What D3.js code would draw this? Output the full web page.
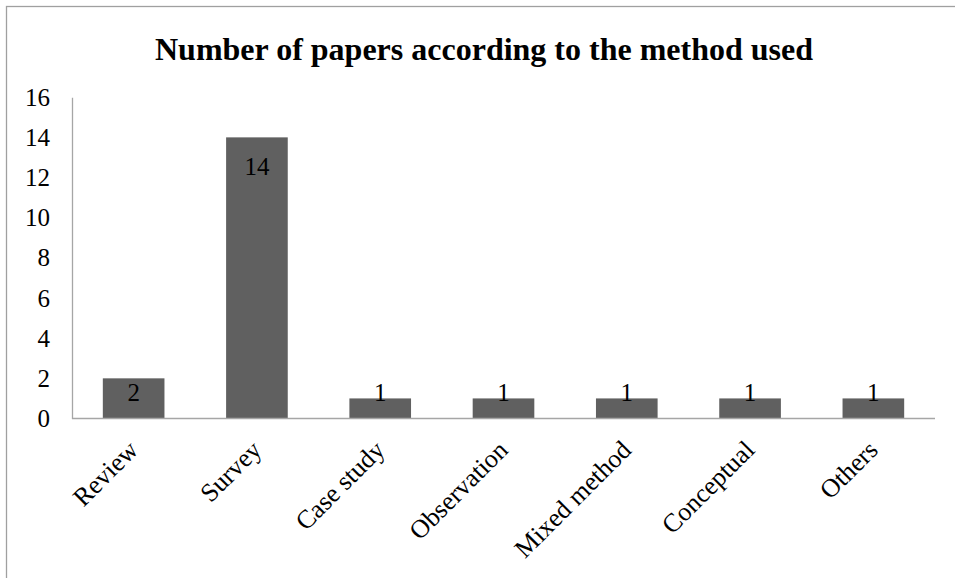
<!DOCTYPE html>
<html>
<head>
<meta charset="utf-8">
<script src="https://cdn.jsdelivr.net/npm/d3@7"></script>
<style>
  html, body { margin: 0; padding: 0; background: #fff; }
  svg { display: block; font-family: "Liberation Serif", "Times New Roman", serif; }
</style>
</head>
<body>
<svg id="chart" width="955" height="578"></svg>
<script>
const title = "Number of papers according to the method used";
const categories = ["Review", "Survey", "Case study", "Observation", "Mixed method", "Conceptual", "Others"];
const values = [2, 14, 1, 1, 1, 1, 1];
const yTicks = [0, 2, 4, 6, 8, 10, 12, 14, 16];

const svg = d3.select("#chart");
const W = 955, H = 578;
const m = { left: 72, top: 97.2 };
const plotRight = 935;
const FONT = "'Liberation Serif', 'Times New Roman', serif";

// outer border (chart area frame)
svg.append("rect")
  .attr("x", 6.5).attr("y", 6.5)
  .attr("width", 1000).attr("height", 1000)
  .attr("fill", "none").attr("stroke", "#a0a0a0").attr("stroke-width", 1.3);

const x = d3.scaleBand().domain(categories).range([m.left, plotRight]).paddingInner(0.5).paddingOuter(0.25);
const y = d3.scaleLinear().domain([0, 16]).range([418.5, 97.2]);

// title
svg.append("text")
  .attr("x", 484).attr("y", 60)
  .attr("text-anchor", "middle")
  .attr("font-weight", "bold")
  .attr("font-size", 32)
  .attr("font-family", FONT)
  .attr("fill", "#000")
  .text(title);

// bars
svg.selectAll("rect.bar").data(values).enter().append("rect")
  .attr("class", "bar")
  .attr("x", (d, i) => x(categories[i]))
  .attr("width", x.bandwidth())
  .attr("y", d => y(d))
  .attr("height", d => y(0) - y(d))
  .attr("fill", "#606060");

// y axis
const yAxis = d3.axisLeft(y).tickValues(yTicks).tickSize(0).tickPadding(22).tickFormat(d3.format("d"));
const gy = svg.append("g").attr("transform", `translate(${m.left},0)`).call(yAxis);
gy.attr("font-family", null).attr("font-size", null);
gy.select(".domain").attr("stroke", "#a6a6a6").attr("stroke-width", 1.3);
gy.selectAll("text").attr("font-size", 25).attr("fill", "#000")
  .attr("font-family", FONT);

// x axis
const xAxis = d3.axisBottom(x).tickSize(0).tickPadding(0);
const gx = svg.append("g").attr("transform", `translate(0,${y(0)})`).call(xAxis);
gx.attr("font-family", null).attr("font-size", null);
gx.select(".domain").attr("stroke", "#a6a6a6").attr("stroke-width", 1.3)
  .attr("d", `M${m.left},0H${plotRight}`);
gx.selectAll(".tick text")
  .attr("font-size", 26).attr("fill", "#000")
  .attr("font-family", FONT)
  .attr("text-anchor", "end")
  .attr("y", 0)
  .attr("dy", "0")
  .attr("transform", "translate(6,33) rotate(-45)");

// data labels
svg.selectAll("text.lbl").data(values).enter().append("text")
  .attr("class", "lbl")
  .attr("x", (d, i) => x(categories[i]) + x.bandwidth() / 2)
  .attr("y", d => Math.min(y(d) + 38, 401))
  .attr("text-anchor", "middle")
  .attr("font-size", 25)
  .attr("font-family", FONT)
  .attr("fill", "#000")
  .text(d => d);
</script>
</body>
</html>
